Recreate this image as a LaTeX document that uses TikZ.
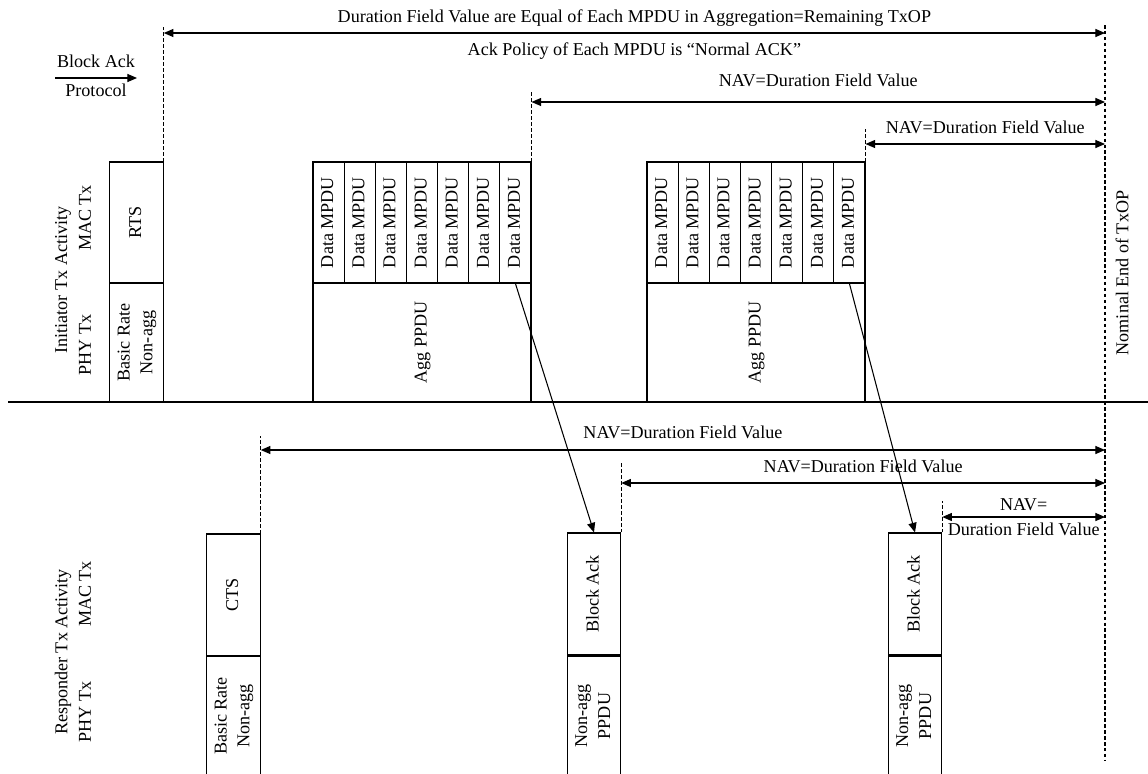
\documentclass[tikz,border=0pt]{standalone}
\usepackage{fontspec}
\setmainfont{Liberation Serif}
\usetikzlibrary{arrows.meta}

% upright text turned on its side, one or more lines
\newcommand{\vtext}[1]{\rotatebox{90}{\begin{tabular}{@{}c@{}}#1\end{tabular}}}

\begin{document}
\begin{tikzpicture}[x=0.2mm, y=-0.2mm, line width=0.6pt,
	>={Triangle[length=5.5pt,width=4.6pt]},
	every node/.style={font=\fontsize{10.3}{13}\selectfont},
	frame/.style={rectangle, draw=black, minimum width=10.7mm, inner sep=0pt},
	mpdu/.style={rectangle, draw=black, minimum width=6.23mm, minimum height=24.2mm, inner sep=0pt},
	ppdu/.style={rectangle, draw=black, minimum width=43.6mm, minimum height=23.8mm, inner sep=0pt},
	marker/.style={dash pattern=on 2pt off 1.4pt},
	nav/.style={<->}]

\useasboundingbox (0,0) rectangle (1148,773);
\clip (0,0) rectangle (1148,773);

% initiator side
\node (ini) at (63,280) [rotate=90] {Initiator Tx Activity};
\node (imac) at (85,218) [rotate=90] {MAC Tx};
\node (iphy) at (85,345) [rotate=90] {PHY Tx};

\node (rts) at (136.5,222.5) [frame, minimum height=24.2mm] {\vtext{RTS}};
\node (inonagg) at (136.5,342.5) [frame, minimum height=23.8mm] {\vtext{Basic Rate\\Non-agg}};

\foreach \i in {1,...,7}
	\node (a\i) at (313+31.14*\i-15.57, 222.5) [mpdu] {\vtext{Data MPDU}};
\node (agg1) at (422,342.5) [ppdu] {\vtext{Agg PPDU}};

\foreach \i in {1,...,7}
	\node (b\i) at (647+31.14*\i-15.57, 222.5) [mpdu] {\vtext{Data MPDU}};
\node (agg2) at (756,342.5) [ppdu] {\vtext{Agg PPDU}};

\draw (8,402) -- (1148,402);

% responder side
\node (res) at (63,652) [rotate=90] {Responder Tx Activity};
\node (rmac) at (85,594) [rotate=90] {MAC Tx};
\node (rphy) at (85,712) [rotate=90] {PHY Tx};

\node (cts) at (233.5,595) [frame, minimum height=24.4mm] {\vtext{CTS}};
\node (rnonagg) at (233.5,716) [frame, minimum height=24mm] {\vtext{Basic Rate\\Non-agg}};

\node (ba1) at (594,594) [frame, minimum height=24.4mm] {\vtext{Block Ack}};
\node (ppdu1) at (594,716) [frame, minimum height=24mm] {\vtext{Non-agg\\PPDU}};
\node (ba2) at (915,594) [frame, minimum height=24.4mm] {\vtext{Block Ack}};
\node (ppdu2) at (915,716) [frame, minimum height=24mm] {\vtext{Non-agg\\PPDU}};

% end of the TxOP
\coordinate (eot) at (1105,25);
\coordinate (eotb) at (1105,760);
\draw[marker] (eot) -- (eotb);
\node (nominal) at (1122,273) [rotate=90] {Nominal End of TxOP};

\coordinate (bap0) at (55,78);
\coordinate (bap1) at (137,78);
\draw[->] (bap0) -- (bap1) node[midway, above=2pt] {Block Ack} node[midway, below] {Protocol};

% NAV markers
\draw[marker] (rts.north east) -- ++(0,-137);
\draw[marker] (a7.north east) -- ++(0,-69);
\draw[marker] (b7.north east) -- ++(0,-32);
\draw[marker] (cts.north east) -- ++(0,-97);
\draw[marker] (ba1.north east) -- ++(0,-71);
\draw[marker] (ba2.north east) -- ++(0,-31);

\draw[nav] (rts.north east |- 0,33) -- (eot |- 0,33)
	node[midway, above] {Duration Field Value are Equal of Each MPDU in Aggregation=Remaining TxOP}
	node[midway, below=2pt] {Ack Policy of Each MPDU is “Normal ACK”};
\draw[nav] (a7.north east |- 0,102) -- (eot |- 0,102) node[midway, above=5pt] {NAV=Duration Field Value};
\draw[nav] (b7.north east |- 0,144) -- (eot |- 0,144) node[midway, above=2pt] {NAV=Duration Field Value};
\draw[nav] (cts.north east |- 0,450) -- (eot |- 0,450) node[midway, above=2.5pt] {NAV=Duration Field Value};
\draw[nav] (ba1.north east |- 0,483) -- (eot |- 0,483) node[midway, above=2pt] {NAV=Duration Field Value};
\draw[nav] (ba2.north east |- 0,517) -- (eot |- 0,517)
	node[midway, above] {NAV=} node[midway, below] {Duration Field Value};

% block acks answer the last MPDU
\draw[->] (a7.south) -- (ba1.north);
\draw[->] (b7.south) -- (ba2.north);

\end{tikzpicture}
\end{document}
